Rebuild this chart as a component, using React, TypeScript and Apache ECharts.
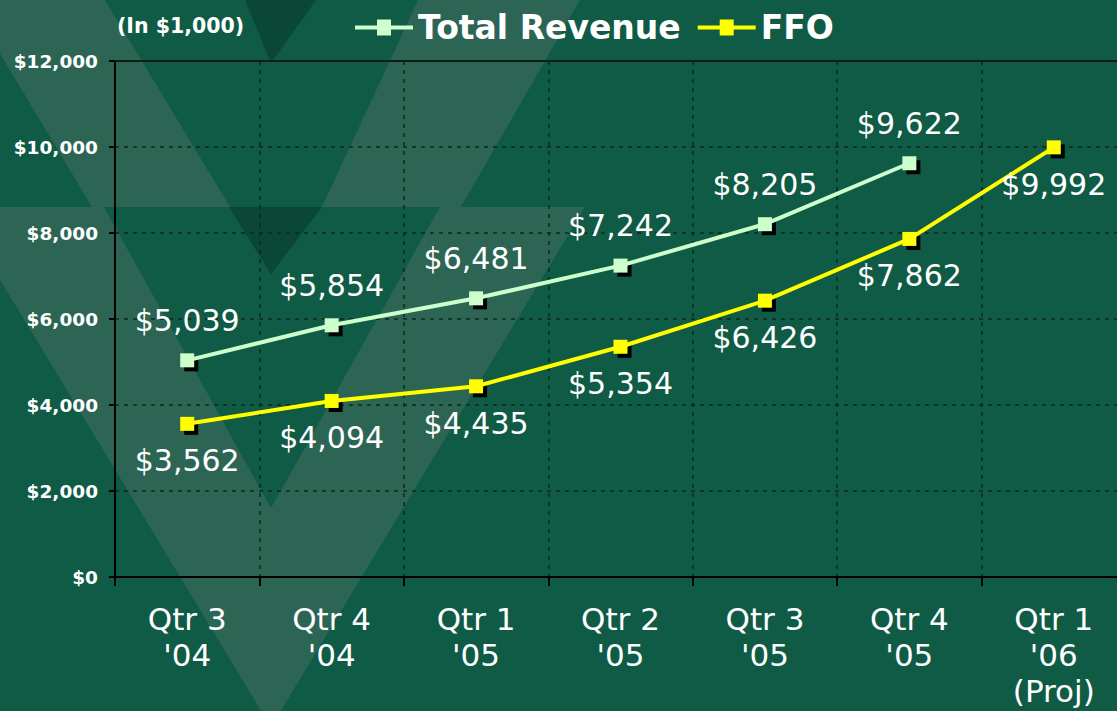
import React, { useEffect, useRef } from "react";
import * as echarts from "echarts";

const categories = [
  "Qtr 3\n'04",
  "Qtr 4\n'04",
  "Qtr 1\n'05",
  "Qtr 2\n'05",
  "Qtr 3\n'05",
  "Qtr 4\n'05",
  "Qtr 1\n'06\n(Proj)",
];
const totalRevenue = [5039, 5854, 6481, 7242, 8205, 9622];
const ffo = [3562, 4094, 4435, 5354, 6426, 7862, 9992];
const seriesNames = ["Total Revenue", "FFO"];
const yMin = 0;
const yMax = 12000;
const yInterval = 2000;
const unitNote = "(In $1,000)";

const money = (v: number) => "$" + Number(v).toLocaleString("en-US");

const FONT = "DejaVu Sans";
const BASE = "#0f5b45";
const LIGHT = "#2d6555";
const DARK = "#0b4737";
const GRIDLINE = "#0a2a1b";

const legendIcon =
  "path://M0,6 L22,6 L22,0 L36,0 L36,6 L58,6 L58,10 L36,10 L36,16 L22,16 L22,10 L0,10 Z";

export default function App() {
  const ref = useRef<HTMLDivElement>(null);

  useEffect(() => {
    document.body.style.margin = "0";
    const chart = echarts.init(ref.current!, null, { renderer: "svg" });

    const poly = (points: number[][], fill: string) => ({
      type: "polygon",
      silent: true,
      z: -10,
      shape: { points },
      style: { fill },
    });

    const shadowSeries = (name: string, data: number[]) => ({
      name,
      type: "line",
      data,
      symbol: "rect",
      symbolSize: 14,
      symbolOffset: [4, 4],
      showSymbol: true,
      itemStyle: { color: "#000000" },
      lineStyle: { opacity: 0, width: 0 },
      z: 1,
      silent: true,
      label: { show: false },
      emphasis: { disabled: true },
    });

    chart.setOption({
      animation: false,
      backgroundColor: BASE,
      title: {
        text: unitNote,
        left: 117,
        top: 15,
        padding: 0,
        textStyle: {
          color: "#ffffff",
          fontFamily: FONT,
          fontWeight: "bold",
          fontSize: 20.5,
        },
      },
      legend: {
        data: [
          { name: seriesNames[0], icon: legendIcon },
          { name: seriesNames[1], icon: legendIcon },
        ],
        left: 355,
        top: 11,
        padding: 0,
        itemWidth: 58,
        itemHeight: 16,
        itemGap: 17,
        textStyle: {
          color: "#ffffff",
          fontFamily: FONT,
          fontWeight: "bold",
          fontSize: 33,
        },
      },
      graphic: [
        // upper V arms
        poly([[-32, 0], [105, 0], [230, 207], [92, 207]], LIGHT),
        poly([[418, 0], [580, 0], [461, 207], [322, 207]], LIGHT),
        poly([[245, 0], [316, 0], [271, 63]], DARK),
        // lower V
        poly(
          [[-44, 207], [104, 207], [271, 508], [440, 207], [585, 207], [271, 727]],
          LIGHT
        ),
        poly([[229, 207], [322, 207], [271, 274]], DARK),
      ],
      grid: {
        left: 115,
        top: 61,
        width: 1011,
        height: 516,
        containLabel: false,
        outerBoundsMode: "none",
      },
      xAxis: [
        {
          type: "category",
          data: categories,
          boundaryGap: true,
          axisLine: { show: true, lineStyle: { color: "#000000", width: 2 } },
          axisTick: {
            show: true,
            interval: 0,
            alignWithLabel: false,
            length: 9,
            lineStyle: { color: "#000000", width: 2 },
          },
          axisLabel: {
            interval: 0,
            color: "#ffffff",
            fontFamily: FONT,
            fontSize: 31,
            lineHeight: 36,
            margin: 24,
          },
          splitLine: {
            show: true,
            interval: 0,
            lineStyle: { color: GRIDLINE, type: [4, 5], width: 1.5 },
          },
        },
        {
          type: "category",
          data: categories,
          position: "top",
          axisLine: { show: true, lineStyle: { color: "#0a1f12", width: 2 } },
          axisTick: { show: false },
          axisLabel: { show: false },
          splitLine: { show: false },
        },
      ],
      yAxis: {
        type: "value",
        min: yMin,
        max: yMax,
        interval: yInterval,
        axisLine: { show: true, lineStyle: { color: "#000000", width: 2 } },
        axisTick: {
          show: true,
          length: 6,
          lineStyle: { color: "#000000", width: 2 },
        },
        axisLabel: {
          color: "#ffffff",
          fontFamily: FONT,
          fontWeight: "bold",
          fontSize: 18.5,
          margin: 17,
          formatter: (v: number) => money(v),
        },
        splitLine: {
          show: true,
          lineStyle: { color: GRIDLINE, type: [4, 5], width: 1.5 },
        },
      },
      series: [
        shadowSeries("rev-shadow", totalRevenue),
        shadowSeries("ffo-shadow", ffo),
        {
          name: seriesNames[0],
          type: "line",
          data: totalRevenue,
          symbol: "rect",
          symbolSize: 14,
          showSymbol: true,
          z: 3,
          itemStyle: { color: "#ccffcc" },
          lineStyle: { color: "#ccffcc", width: 4 },
          label: {
            show: true,
            position: "top",
            distance: 18,
            color: "#ffffff",
            fontFamily: FONT,
            fontSize: 30,
            formatter: (p: any) => money(p.value),
          },
        },
        {
          name: seriesNames[1],
          type: "line",
          data: ffo,
          symbol: "rect",
          symbolSize: 14,
          showSymbol: true,
          z: 3,
          itemStyle: { color: "#ffff00" },
          lineStyle: { color: "#ffff00", width: 4 },
          label: {
            show: true,
            position: "bottom",
            distance: 15,
            color: "#ffffff",
            fontFamily: FONT,
            fontSize: 30,
            formatter: (p: any) => money(p.value),
          },
        },
      ],
    });

    return () => chart.dispose();
  }, []);

  return <div ref={ref} style={{ width: 1117, height: 711 }} />;
}
